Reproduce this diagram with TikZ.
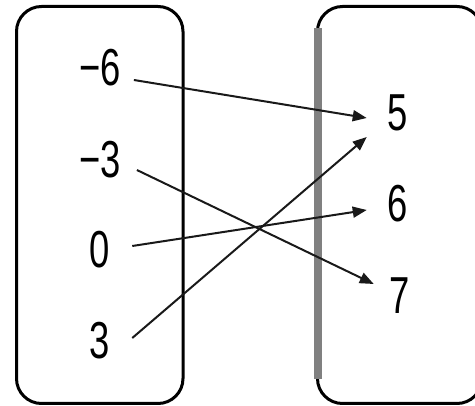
\documentclass[tikz,border=0pt]{standalone}
\usepackage{fontspec}
\setmainfont{Liberation Sans}
\usetikzlibrary{arrows.meta}
\definecolor{edgegray}{RGB}{128,128,128}

\begin{document}
\begin{tikzpicture}[
        x=1pt, y=-1pt,
        num/.style={inner sep=0pt, xscale=0.7, font=\fontsize{52}{60}\selectfont},
        setbox/.style={draw=black, line width=3pt, rounded corners=25pt},
        maparrow/.style={-{Triangle[length=14pt, width=11pt]}, line width=2pt, draw=black!90}
    ]
        \useasboundingbox (0,0) rectangle (475,406);
        % domain and range
        \draw[setbox] (16.5,6.5) rectangle (183,403.5);
        \draw[setbox] (317.5,6.5) rectangle (482,403.5);
        \draw[edgegray, line width=8pt] (317.5,28) -- (317.5,379);

        \node[num] (m6) at (100,68) {−6};
        \node[num] (m3) at (100,160) {−3};
        \node[num] (z0) at (100,250) {0};
        \node[num] (p3) at (100,341) {3};

        \node[num] (r5) at (398,113) {5};
        \node[num] (r6) at (398,204) {6};
        \node[num] (r7) at (400,296) {7};

        \draw[maparrow] ([shift={(13,12)}]m6.east) -- ([shift={(-21,5)}]r5.west);
        \draw[maparrow] ([shift={(16,10)}]m3.east) -- ([shift={(-16,-12)}]r7.west);
        \draw[maparrow] ([shift={(22,-4)}]z0.east) -- ([shift={(-21,6)}]r6.west);
        \draw[maparrow] ([shift={(22,-3)}]p3.east) -- ([shift={(-21,24)}]r5.west);
\end{tikzpicture}
\end{document}
